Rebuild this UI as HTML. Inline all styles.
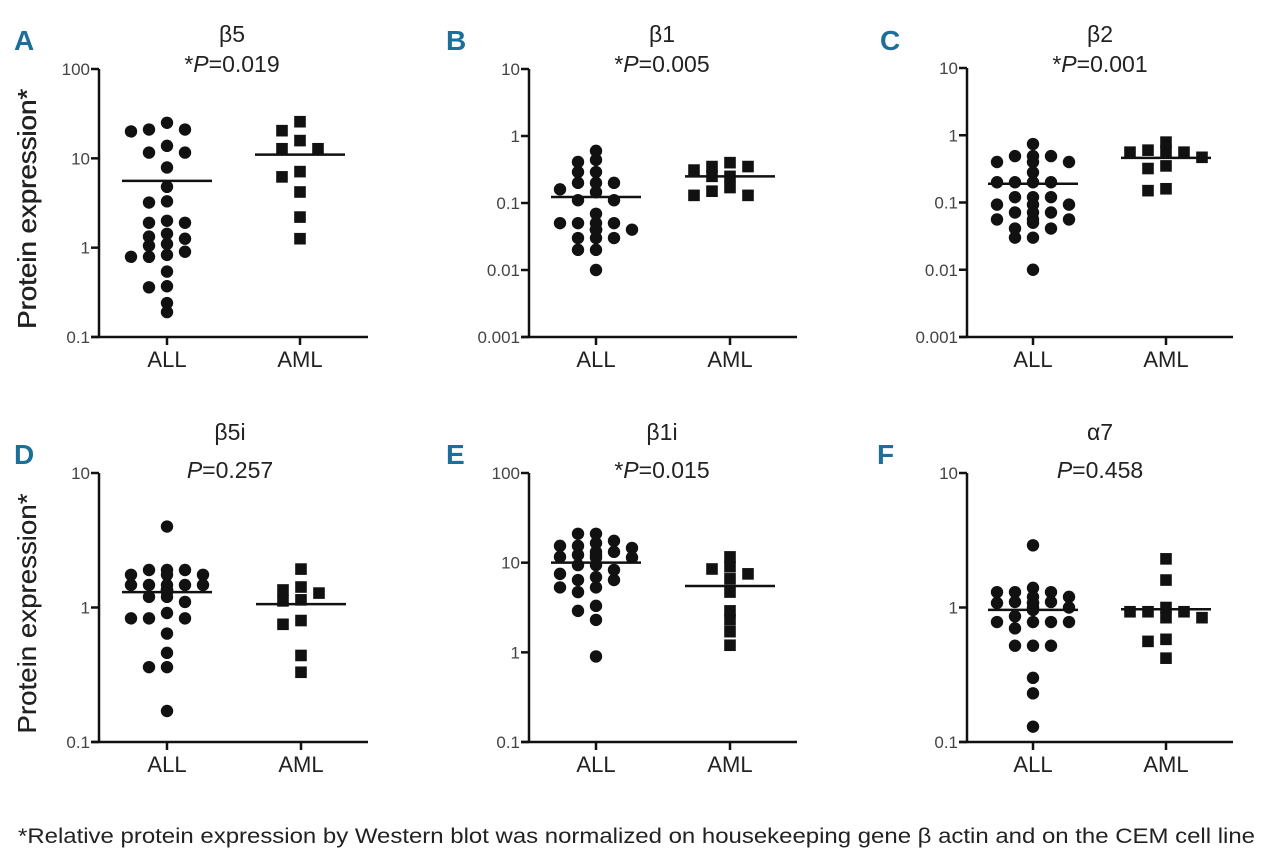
<!DOCTYPE html>
<html><head><meta charset="utf-8"><style>
body{margin:0;background:#fff}
svg{display:block}
text{font-family:"Liberation Sans Narrow","Liberation Sans",sans-serif}
</style></head><body>
<svg id="fig" width="1280" height="866" viewBox="0 0 1280 866" xmlns="http://www.w3.org/2000/svg"></svg>
<script>
// ---- data ----
const categories = ["ALL", "AML"];
const panelLetters = ["A","B","C","D","E","F"];
const panelTitles = ["β5","β1","β2","β5i","β1i","α7"];
const panelPvals = ["*P=0.019","*P=0.005","*P=0.001","P=0.257","*P=0.015","P=0.458"];
const tickLabelsA = ["100","10","1","0.1"];
const tickLabelsB = ["10","1","0.1","0.01","0.001"];
const tickLabelsC = ["10","1","0.1","0.01","0.001"];
const tickLabelsD = ["10","1","0.1"];
const tickLabelsE = ["100","10","1","0.1"];
const tickLabelsF = ["10","1","0.1"];

const allA = [21,25,20,21,11.6,13.8,11.6,7.9,4.8,3.2,3.3,1.9,2.0,1.9,1.33,1.26,1.43,1.1,1.05,0.83,0.79,0.79,0.9,0.54,0.37,0.36,0.24,0.19];
const amlA = [25.7,20.4,15.8,12.8,12.8,7.1,6.2,4.2,2.2,1.26];
const allB = [0.6,0.44,0.41,0.29,0.29,0.2,0.2,0.2,0.16,0.145,0.11,0.11,0.069,0.05,0.05,0.05,0.05,0.04,0.04,0.04,0.04,0.04,0.03,0.03,0.03,0.02,0.02,0.01];
const amlB = [0.40,0.35,0.35,0.31,0.25,0.25,0.17,0.15,0.13,0.13];
const allC = [0.74,0.49,0.49,0.49,0.40,0.40,0.40,0.28,0.20,0.20,0.20,0.20,0.12,0.12,0.12,0.093,0.093,0.093,0.071,0.071,0.071,0.056,0.056,0.056,0.05,0.041,0.041,0.030,0.030,0.01];
const amlC = [0.79,0.56,0.58,0.6,0.56,0.35,0.32,0.47,0.15,0.16];
const allD = [4.0,1.9,1.9,1.9,1.75,1.75,1.75,1.47,1.47,1.47,1.47,1.47,1.35,1.35,1.35,1.2,1.2,1.1,0.91,0.83,0.83,0.83,0.64,0.46,0.36,0.36,0.17,1.3];
const amlD = [1.93,1.42,1.35,1.28,1.14,1.12,0.80,0.75,0.44,0.33];
const allE = [21,21,17.5,16.5,15.4,15.4,14.6,13.2,13.2,12.2,12.2,11.6,11.4,11.4,9.4,9.4,8.3,7.5,6.9,6.4,6.4,5.3,5.3,4.7,3.3,2.9,2.3,0.9];
const amlE = [11.6,9.0,8.5,7.5,6.6,4.7,2.9,2.3,1.7,1.2];
const allF = [2.9,1.4,1.3,1.3,1.3,1.2,1.2,1.1,1.1,1.08,1.08,1.08,0.96,0.96,0.86,0.78,0.78,0.78,0.78,0.70,0.52,0.52,0.52,0.30,0.23,0.13,1.0,1.0];
const amlF = [2.3,1.6,1.0,0.93,0.93,0.93,0.84,0.84,0.58,0.56,0.42];
const meansAll = [5.6,0.123,0.19,1.3,10,0.96];
const meansAml = [11.0,0.25,0.46,1.06,5.5,0.97];

// ---- layout (pixels) ----
const layout = [
  {ox:99, xEnd:368, yTop:69, yBot:337, top:2, bot:-1, cx:[167,300], lx:[14,30], tY:[42,72], tx:232, ticks:tickLabelsA, all:allA, aml:amlA},
  {ox:529, xEnd:797, yTop:69, yBot:337, top:1, bot:-3, cx:[596,730], lx:[446,30], tY:[42,72], tx:662, ticks:tickLabelsB, all:allB, aml:amlB},
  {ox:967, xEnd:1233, yTop:68, yBot:337, top:1, bot:-3, cx:[1033,1166], lx:[880,30], tY:[42,72], tx:1100, ticks:tickLabelsC, all:allC, aml:amlC},
  {ox:99, xEnd:368, yTop:473, yBot:742, top:1, bot:-1, cx:[167,301], lx:[14,444], tY:[440,478], tx:230, ticks:tickLabelsD, all:allD, aml:amlD},
  {ox:529, xEnd:797, yTop:473, yBot:742, top:2, bot:-1, cx:[596,730], lx:[446,444], tY:[440,478], tx:662, ticks:tickLabelsE, all:allE, aml:amlE},
  {ox:967, xEnd:1233, yTop:473, yBot:742, top:1, bot:-1, cx:[1033,1166], lx:[877,444], tY:[440,478], tx:1100, ticks:tickLabelsF, all:allF, aml:amlF}
];
const NS = "http://www.w3.org/2000/svg";
const svg = document.getElementById("fig");
function mk(tag, attrs, parent){
  const e = document.createElementNS(NS, tag);
  for (const k in attrs) e.setAttribute(k, attrs[k]);
  (parent||svg).appendChild(e);
  return e;
}
function beeswarm(vals, yFn, cx, step, minDy){
  const placed = [];
  const order = vals.map((v,i)=>i).sort((a,b)=>vals[b]-vals[a]);
  const res = new Array(vals.length);
  const cols = [0,-1,1,-2,2,-0.5,0.5,-1.5,1.5,-2.5,2.5];
  order.forEach(i=>{
    const y = yFn(vals[i]);
    for (const c of cols){
      if (!placed.some(p=>Math.abs(p.c-c)<0.9 && Math.abs(p.y-y)<minDy)){
        placed.push({c,y}); res[i]={x:cx+c*step,y}; return;
      }
    }
    res[i]={x:cx,y};
  });
  return res;
}
layout.forEach((p, k)=>{
  const g = mk("g", {});
  
  
  const yScale = v => p.yBot - (Math.log10(v) - p.bot) / (p.top - p.bot) * (p.yBot - p.yTop);
  const L = mk("text", {x:p.lx[0], y:p.lx[1]+20, "font-size":28, "font-weight":"bold", fill:"#1b6f98"}, g);
  L.textContent = panelLetters[k];
  
  
  const t1 = mk("text", {x:p.tx, y:p.tY[0], "font-size":23, "text-anchor":"middle", fill:"#222"}, g);
  t1.textContent = panelTitles[k];
  
  
  const t2 = mk("text", {x:p.tx, y:p.tY[1], "font-size":23, "text-anchor":"middle", fill:"#222"}, g);
  const pv = panelPvals[k];
  const star = pv.startsWith("*") ? "*" : "";
  const rest = pv.replace("*","").replace("P","");
  t2.innerHTML = star + '<tspan font-style="italic">P</tspan>' + rest;
  
  
  const ya = mk("line", {x1:p.ox, y1:p.yTop, x2:p.ox, y2:p.yBot, stroke:"#111", "stroke-width":2.5}, g);
  
  
  const xa = mk("line", {x1:p.ox-8, y1:p.yBot, x2:p.xEnd, y2:p.yBot, stroke:"#111", "stroke-width":2.5}, g);
  
  
  p.ticks.forEach(lbl=>{
    const y = yScale(parseFloat(lbl));
    mk("line", {x1:p.ox-8, y1:y, x2:p.ox, y2:y, stroke:"#111", "stroke-width":2.5}, g);
    const tl = mk("text", {x:p.ox-9, y:y+6, "font-size":17, "text-anchor":"end", fill:"#444"}, g);
    tl.textContent = lbl;
    
    
  });
  categories.forEach((c, j)=>{
    mk("line", {x1:p.cx[j], y1:p.yBot, x2:p.cx[j], y2:p.yBot+8, stroke:"#111", "stroke-width":2.5}, g);
    const xl = mk("text", {x:p.cx[j], y:p.yBot+30, "font-size":22, "text-anchor":"middle", fill:"#222"}, g);
    xl.textContent = c;
    
    
  });
  const yl = mk("text", {x:0, y:0, "font-size":26, "text-anchor":"middle", fill:"#222",
    textLength:240, lengthAdjust:"spacingAndGlyphs",
    transform:`translate(36,${(p.yTop+p.yBot)/2+6}) rotate(-90)`}, g);
  yl.textContent = "Protein expression*";
  
  
  beeswarm(p.all, yScale, p.cx[0], 18, 9).forEach(pt=>{
    const c = mk("circle", {cx:pt.x, cy:pt.y, r:6.2, fill:"#111"}, g);
    
    
  });
  beeswarm(p.aml, yScale, p.cx[1], 18, 9).forEach(pt=>{
    const s = mk("rect", {x:pt.x-5.8, y:pt.y-5.8, width:11.6, height:11.6, fill:"#111"}, g);
    
    
  });
  [meansAll[k], meansAml[k]].forEach((m, j)=>{
    const y = yScale(m);
    const ml = mk("line", {x1:p.cx[j]-45, y1:y, x2:p.cx[j]+45, y2:y, stroke:"#111", "stroke-width":2.5}, g);
    
    
  });
});
const fn = mk("text", {x:18, y:843, "font-size":21, fill:"#222", textLength:1237, lengthAdjust:"spacingAndGlyphs"});
fn.textContent = "*Relative protein expression by Western blot was normalized on housekeeping gene β actin and on the CEM cell line";


</script>
</body></html>
